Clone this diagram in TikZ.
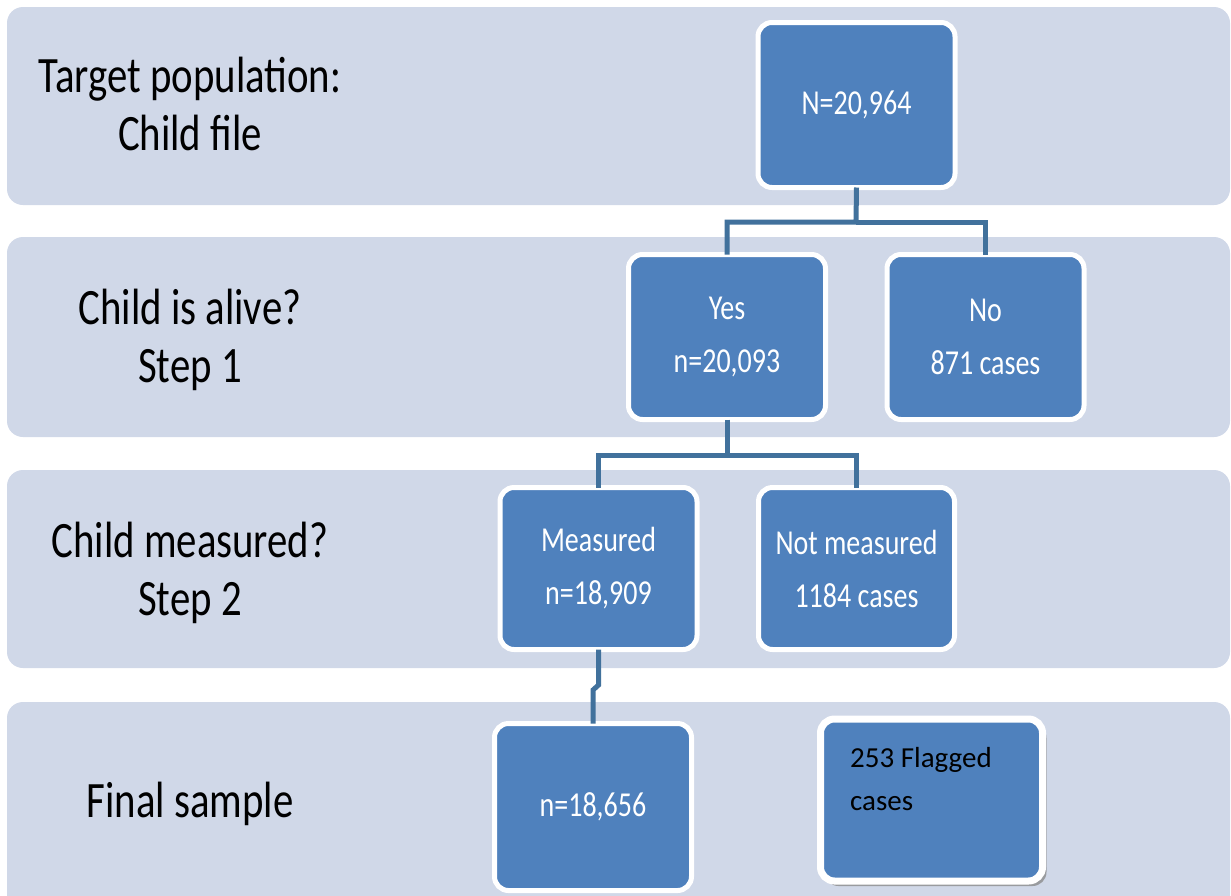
\documentclass[tikz,border=0pt]{standalone}
\usepackage{fontspec}
\setmainfont{Carlito}
\newfontfamily\condfont[FakeStretch=0.8]{Carlito}
\usetikzlibrary{shadows}
\definecolor{bandgray}{HTML}{D0D8E8}
\definecolor{boxblue}{HTML}{4F81BD}
\definecolor{connblue}{HTML}{41719C}
\begin{document}
\begin{tikzpicture}[x=1pt,y=-1pt,
  bandbox/.style={fill=bandgray, rounded corners=16pt},
  lbl/.style={font=\condfont\fontsize{51}{58}\selectfont, align=center, anchor=base, text=black, inner sep=0pt},
  bluebox/.style={draw=white, line width=5pt, fill=boxblue, rounded corners=14pt,
    minimum width=197pt, minimum height=165pt, inner sep=0pt, outer sep=0pt,
    font=\condfont\fontsize{35}{53}\selectfont, text=white, align=center},
  flagbox/.style={bluebox, line width=7pt, minimum width=222pt, minimum height=162pt,
    drop shadow={shadow xshift=4pt, shadow yshift=-5pt, fill=black!45, opacity=0.8}},
  flagtext/.style={font=\fontsize{29}{43}\selectfont, text=black, align=left, anchor=base west, inner sep=0pt},
  conn/.style={draw=connblue, line width=5pt}]
\clip (0,0) rectangle (1231,895);
\useasboundingbox (0,0) rectangle (1231,895);
\fill[white] (0,0) rectangle (1231,895);
% bands
\path[bandbox] (7,7) rectangle (1230,205);
\path[bandbox] (7,237) rectangle (1230,437);
\path[bandbox] (7,470) rectangle (1230,668);
\path[bandbox] (7,702) rectangle (1230,930);
% left labels (base anchor = baseline of last line)
\node[lbl] (l1) at (190,150) {Target population:\\Child file};
\node[lbl] (l2) at (190,382) {Child is alive?\\Step 1};
\node[lbl] (l3) at (190,615) {Child measured?\\Step 2};
\node[lbl] (l4) at (190,817) {Final sample};
% connector junctions
\coordinate (j1) at (856,222);
\coordinate (j2) at (727,455);
\coordinate (k1) at (598.5,685);
\coordinate (k2) at (593,690);
% boxes
\node[bluebox] (N) at (856.5,105) {N=20,964};
\node[bluebox] (yes) at (727,337) {Yes\\n=20,093};
\node[bluebox] (no) at (985.5,337) {No\\871 cases};
\node[bluebox, minimum height=162pt] (meas) at (598.5,568.5) {Measured\\n=18,909};
\node[bluebox, minimum width=196pt, minimum height=162pt] (notm) at (856.5,568.5) {Not measured\\1184 cases};
\node[bluebox, minimum width=197pt, minimum height=167pt] (final) at (593,807) {n=18,656};
\node[flagbox] (flag) at (931.5,800) {};
\node[flagtext] (flagt) at (850,810) {253 Flagged\\cases};
% connectors
\draw[conn] (N.south) -- (j1) -| (yes.north);
\draw[conn] (j1) -| (no.north);
\draw[conn] (yes.south) -- (j2) -| (meas.north);
\draw[conn] (j2) -| (notm.north);
\draw[conn] (meas.south) -- (k1) -- (k2) -- (final.north);
\end{tikzpicture}
\end{document}
